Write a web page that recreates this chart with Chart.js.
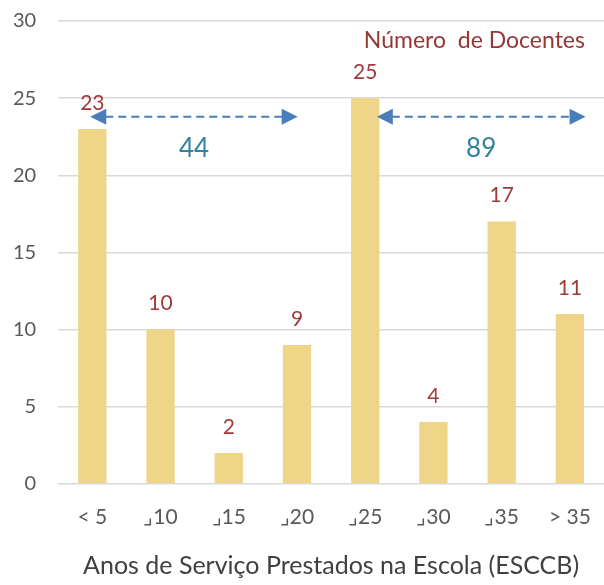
<!DOCTYPE html>
<html>
<head>
<meta charset="utf-8">
<script src="https://cdn.jsdelivr.net/npm/chart.js@4"></script>
<style>
  html, body { margin: 0; padding: 0; background: #fff; }
  #wrap { width: 604px; height: 585px; }
</style>
</head>
<body>
<div id="wrap"><canvas id="docentesChart"></canvas></div>
<script>
var categories = ['< 5', '\u231F10', '\u231F15', '\u231F20', '\u231F25', '\u231F30', '\u231F35', '> 35'];
var docentes = [23, 10, 2, 9, 25, 4, 17, 11];
var yTicks = [0, 5, 10, 15, 20, 25, 30];

// grouped totals shown with dashed arrows (from index, to index, value level, total)
var groupFrom = [-0.03, 4.17];
var groupTo = [3.01, 7.23];
var groupLevel = [23.8, 23.8];
var groupTotal = ['44', '89'];

var fontFamily = 'Lato, "Open Sans", sans-serif';

// draws value labels, arrows, totals and the title inside the plot
var overlay = {
    id: 'overlay',
    afterDatasetsDraw: function (chart) {
        var ctx = chart.ctx;
        var x = chart.scales.x, y = chart.scales.y;
        var meta = chart.getDatasetMeta(0);

        ctx.save();
        ctx.font = '21px ' + fontFamily;
        ctx.fillStyle = '#9E3A38';
        ctx.textAlign = 'center';
        ctx.textBaseline = 'middle';
        meta.data.forEach(function (bar, i) {
            ctx.fillText(String(docentes[i]), bar.x, bar.y - 26);
        });

        for (var g = 0; g < groupTotal.length; g++) {
            var x1 = x.getPixelForValue(groupFrom[g]);
            var x2 = x.getPixelForValue(groupTo[g]);
            var yy = y.getPixelForValue(groupLevel[g]);
            ctx.strokeStyle = '#4A7EBB';
            ctx.fillStyle = '#4A7EBB';
            ctx.lineWidth = 2;
            ctx.setLineDash([8, 5]);
            ctx.beginPath();
            ctx.moveTo(x1 + 15, yy);
            ctx.lineTo(x2 - 15, yy);
            ctx.stroke();
            ctx.setLineDash([]);
            ctx.beginPath();
            ctx.moveTo(x1, yy);
            ctx.lineTo(x1 + 16, yy - 8);
            ctx.lineTo(x1 + 16, yy + 8);
            ctx.closePath();
            ctx.fill();
            ctx.beginPath();
            ctx.moveTo(x2, yy);
            ctx.lineTo(x2 - 16, yy - 8);
            ctx.lineTo(x2 - 16, yy + 8);
            ctx.closePath();
            ctx.fill();

            ctx.font = '26px ' + fontFamily;
            ctx.fillStyle = '#31849B';
            ctx.fillText(groupTotal[g], (x1 + x2) / 2, y.getPixelForValue(21.75));
        }

        ctx.font = '23px ' + fontFamily;
        ctx.fillStyle = '#953735';
        ctx.fillText('Número  de Docentes', x.getPixelForValue(5.6), y.getPixelForValue(28.75));
        ctx.restore();
    }
};

var ctx = document.getElementById('docentesChart').getContext('2d');
var chart = new Chart(ctx, {
    type: 'bar',
    data: {
        labels: categories,
        datasets: [{
            label: 'Número de Docentes',
            data: docentes,
            backgroundColor: '#EFD588',
            borderWidth: 0,
            barPercentage: 0.415,
            categoryPercentage: 1.0
        }]
    },
    options: {
        responsive: true,
        maintainAspectRatio: false,
        animation: false,
        layout: { padding: { left: -9, right: -8, top: 21, bottom: 4 } },
        plugins: {
            legend: { display: false },
            tooltip: { enabled: false }
        },
        scales: {
            x: {
                grid: { display: false },
                border: { display: false },
                ticks: { color: '#595959', font: { family: fontFamily, size: 21 }, padding: 13 },
                title: {
                    display: true,
                    text: 'Anos de Serviço Prestados na Escola (ESCCB)',
                    color: '#404040',
                    font: { family: fontFamily, size: 25 },
                    padding: { top: 8, bottom: 0 }
                }
            },
            y: {
                min: 0,
                max: 30,
                afterBuildTicks: function (axis) {
                    axis.ticks = yTicks.map(function (v) { return { value: v }; });
                },
                afterFit: function (axis) {
                    axis.paddingTop = 0;
                },
                grid: { color: '#D9D9D9', lineWidth: 1.5, drawTicks: false },
                border: { display: false },
                ticks: { color: '#595959', font: { family: fontFamily, size: 20 }, padding: 22 }
            }
        }
    },
    plugins: [overlay]
});
</script>
</body>
</html>
